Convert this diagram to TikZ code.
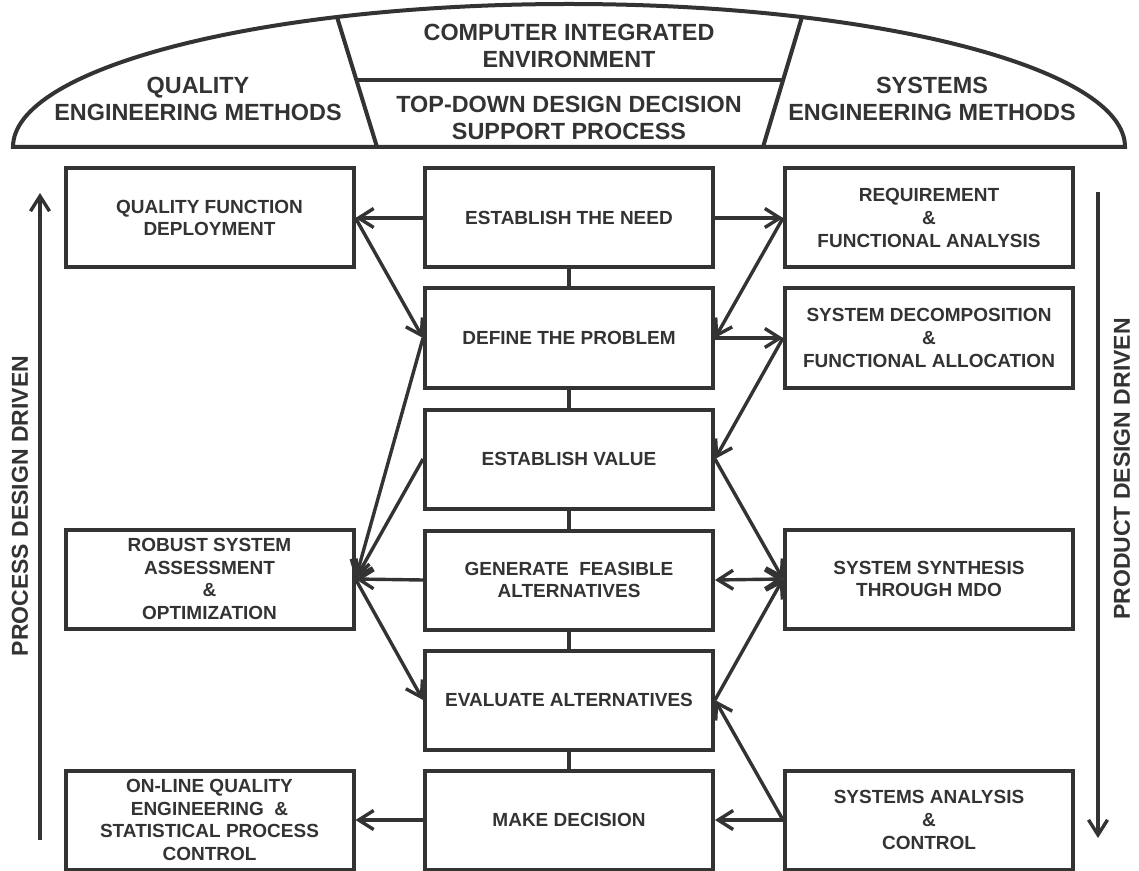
\documentclass[tikz,border=0pt]{standalone}
\usepackage{fontspec}
\setmainfont{Liberation Sans}
\usetikzlibrary{arrows.meta}
\definecolor{ChartGray}{HTML}{333333}

\begin{document}
\begin{tikzpicture}[x=0.5pt, y=-0.5pt, color=ChartGray,
        box/.style={draw, line width=2pt, inner sep=0pt, minimum width=144pt,
            minimum height=49.5pt, align=center,
            font=\fontsize{9.5}{11.4}\selectfont\bfseries},
        head/.style={align=center, font=\fontsize{11.7}{13.5}\selectfont\bfseries},
        side/.style={rotate=90, font=\fontsize{11.5}{13.5}\selectfont\bfseries},
        link/.style={line width=1.7pt},
        >={Straight Barb[length=7.5pt, width=9.5pt]}]
    \useasboundingbox (0,0) rectangle (1139,871);

    % dome on top
    \draw[line width=2pt] (13,147) arc[start angle=180, end angle=360, x radius=556, y radius=143] -- cycle;
    \draw[line width=2pt] (337,17) -- (377,147);
    \draw[line width=2pt] (802,17) -- (763,147);
    \draw[line width=2pt] (356,80) -- (783,80);
    \node[head] (qem) at (198,99) {QUALITY\\ENGINEERING METHODS};
    \node[head] (cie) at (569,46) {COMPUTER INTEGRATED\\ENVIRONMENT};
    \node[head] (tdd) at (569,118) {TOP-DOWN DESIGN DECISION\\SUPPORT PROCESS};
    \node[head] (sem) at (932,99) {SYSTEMS\\ENGINEERING METHODS};

    % centre column
    \node[box] (need) at (569,218) {ESTABLISH THE NEED};
    \node[box] (define) at (569,338) {DEFINE THE PROBLEM};
    \node[box] (value) at (569,459) {ESTABLISH VALUE};
    \node[box] (generate) at (569,580) {GENERATE\ \ FEASIBLE\\ALTERNATIVES};
    \node[box] (evaluate) at (569,700) {EVALUATE ALTERNATIVES};
    \node[box] (decision) at (569,820) {MAKE DECISION};

    % quality side
    \node[box] (qfd) at (209.5,218) {QUALITY FUNCTION\\DEPLOYMENT};
    \node[box] (robust) at (209.5,579) {ROBUST SYSTEM\\ASSESSMENT\\\&\\OPTIMIZATION};
    \node[box] (online) at (209.5,820) {ON-LINE QUALITY\\ENGINEERING\ \ \&\\STATISTICAL PROCESS\\CONTROL};

    % systems side
    \node[box] (req) at (929,218) {REQUIREMENT\\\&\\FUNCTIONAL ANALYSIS};
    \node[box] (decomp) at (929,338) {SYSTEM DECOMPOSITION\\\&\\FUNCTIONAL ALLOCATION};
    \node[box] (synth) at (929,579) {SYSTEM SYNTHESIS\\THROUGH MDO};
    \node[box] (analysis) at (929,820) {SYSTEMS ANALYSIS\\\&\\CONTROL};

    \foreach \a/\b in {need/define, define/value, value/generate, generate/evaluate, evaluate/decision}
        \draw[link] (\a) -- (\b);

    \draw[link, ->] (need.west) -- (qfd.east);
    \draw[link, ->] (need.east) -- (req.west);
    \draw[link, ->] (qfd.east) -- (define.west);
    \draw[link, ->] (req.west) -- (define.east);
    \draw[link, ->] (define.east) -- (decomp.west);
    \draw[link, ->] (decomp.west) -- (value.east);
    \draw[link, ->] (define.west) -- (robust.east);
    \draw[link, ->] (value.west) -- (robust.east);
    \draw[link, ->] (generate.west) -- (robust.east);
    \draw[link, ->] (robust.east) -- (evaluate.west);
    \draw[link, ->] (value.east) -- (synth.west);
    \draw[link, <->] (generate.east) -- (synth.west);
    \draw[link, ->] (evaluate.east) -- (synth.west);
    \draw[link, ->] (analysis.west) -- (evaluate.east);
    \draw[link, ->] (analysis.west) -- (decision.east);
    \draw[link, ->] (decision.west) -- (online.east);

    % driving arrows
    \coordinate (pbot) at (40,840);
    \coordinate (ptop) at (40,193);
    \coordinate (dtop) at (1098,192);
    \coordinate (dbot) at (1098,838);
    \draw[link, ->] (pbot) -- (ptop);
    \draw[link, ->] (dtop) -- (dbot);
    \node[side] (pdd) at (20,506) {PROCESS DESIGN DRIVEN};
    \node[side] (ddd) at (1122,469) {PRODUCT DESIGN DRIVEN};
\end{tikzpicture}
\end{document}
